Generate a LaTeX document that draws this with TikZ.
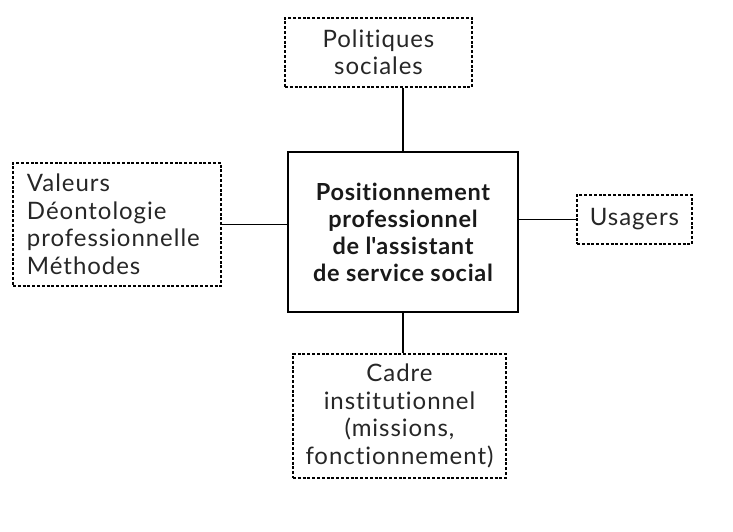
\documentclass[tikz,border=0pt]{standalone}
\usepackage{fontspec}
\setmainfont{Lato}[Ligatures={NoCommon,NoContextual}]
\newfontfamily\reglato{Lato}[Ligatures={NoCommon,NoContextual},LetterSpace=4]
\newfontfamily\boldlato{Lato Bold}[Ligatures={NoCommon,NoContextual},LetterSpace=3]
\begin{document}
\begin{tikzpicture}[x=1pt,y=-1pt,
  dbox/.style={draw, line width=1.3pt, dash pattern=on 3pt off 1.8pt, inner sep=0pt, align=center,
    font=\reglato\fontsize{24}{27.5}\selectfont, text=black!85},
  mbox/.style={draw, line width=1.5pt, inner sep=0pt, align=center,
    font=\boldlato\fontsize{23.5}{27}\selectfont, text=black!90},
  conn/.style={line width=1.3pt}]
\useasboundingbox (0,0) rectangle (733,531);
\node[mbox, minimum width=230pt, minimum height=160pt] (c) at (403,232)
  {Positionnement\\professionnel\\de l\textquotesingle assistant\\de service social};
\node[dbox, minimum width=187pt, minimum height=69pt] (t) at (378.5,52.5)
  {Politiques\\sociales};
\node[dbox, minimum width=208pt, minimum height=123pt, align=left, text width=180pt] (l) at (117,224.5)
  {Valeurs\\Déontologie\\professionnelle\\Méthodes};
\node[dbox, minimum width=115pt, minimum height=49pt] (r) at (634.5,219.5)
  {Usagers};
\node[dbox, minimum width=213pt, minimum height=124pt] (b) at (399.5,416)
  {Cadre\\institutionnel\\(missions,\\fonctionnement)};
\draw[conn] (c.north) -- (c.north |- t.south);
\draw[conn] (c.south) -- (c.south |- b.north);
\draw[conn] (l.east) -- (l.east -| c.west);
\draw[conn] (r.west) -- (r.west -| c.east);
\end{tikzpicture}
\end{document}
